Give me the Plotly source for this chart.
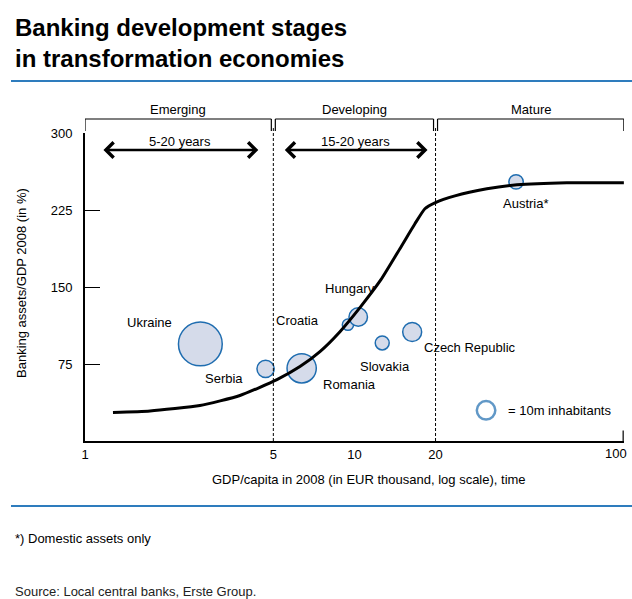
import numpy as np
import plotly.graph_objects as go

# Countries: GDP per capita 2008 (EUR thousand), banking assets / GDP (%), population (m)
countries = ["Ukraine", "Serbia", "Romania", "Croatia", "Hungary",
             "Slovakia", "Czech Republic", "Austria*"]
gdp_per_capita = [2.68, 4.68, 6.37, 9.46, 10.33, 12.68, 16.38, 39.8]
assets_to_gdp = [94.5, 70.3, 70.8, 113.3, 120.8, 95.5, 106.2, 252.4]
population_m = [56, 8.7, 25, 3.7, 10, 5.7, 10.5, 6.1]

# Where each country name sits (GDP, assets)
label_gdp = [1.735, 3.29, 9.60, 6.15, 9.62, 12.94, 26.8, 43.3]
label_assets = [115, 60.5, 54.7, 117.5, 148.3, 72.8, 90.7, 231.7]

# Stylised development path
curve_gdp = [1.27, 1.743, 2.671, 3.759, 5.158, 6.278, 7.447, 8.836, 10.48,
             12.54, 14.75, 16.77, 18.26, 19.89, 23.6, 31.01, 40.09, 61.43, 100]
curve_assets = [27.7, 29.2, 34.5, 44.3, 59.8, 72.5, 87.1, 106.5, 129.9,
                157.1, 187.3, 211.6, 226.2, 232.0, 238.8, 245.6, 249.5, 251.5, 251.5]

# Development stages and their GDP bounds
stages = ["Emerging", "Developing", "Mature"]
stage_bounds = [1, 5, 20, 100]
stage_durations = ["5-20 years", "15-20 years"]

# Bubble size key
key_population = 10
key_gdp = 30.8
key_assets = 29.9
key_text = "= 10m inhabitants"

x_ticks = [1, 5, 10, 20, 100]
y_ticks = [75, 150, 225, 300]

FONT = "Liberation Sans, Arial, sans-serif"
BLUE = "#1f6db0"
FILL = "#d5dbea"
RULE = "#2e7cbd"

size_ref = 2.0 * 10 / 18.5 ** 2


def note(x, y, text, size=13, xanchor="center", color="black", **kw):
    fig.add_annotation(x=x, y=y, text=text, showarrow=False,
                       xanchor=xanchor, yanchor="middle",
                       font=dict(family=FONT, size=size, color=color), **kw)


fig = go.Figure()

fig.add_trace(go.Scatter(
    x=gdp_per_capita, y=assets_to_gdp, mode="markers",
    marker=dict(size=population_m, sizemode="area", sizeref=size_ref,
                color=FILL, opacity=1, line=dict(color=BLUE, width=1.5)),
    hoverinfo="skip", showlegend=False, cliponaxis=False))

fig.add_trace(go.Scatter(
    x=curve_gdp, y=curve_assets, mode="lines",
    line=dict(color="black", width=3, shape="spline", smoothing=0.5),
    hoverinfo="skip", showlegend=False))

fig.add_trace(go.Scatter(
    x=[key_gdp], y=[key_assets], mode="markers",
    marker=dict(size=[key_population], sizemode="area", sizeref=size_ref,
                color="white", line=dict(color=BLUE, width=2.5)),
    hoverinfo="skip", showlegend=False))

# Country names
for name, lx, ly in zip(countries, label_gdp, label_assets):
    note(np.log10(lx), ly, name, xref="x", yref="y")

note(np.log10(key_gdp) + 0.0736, key_assets, key_text, xanchor="left",
     xref="x", yref="y")

# Stage boundaries, brackets and duration arrows
gap = 10 ** (2 / 269.5)
br_top, br_bot = 1.0455, 1.0065
for b in stage_bounds[1:-1]:
    fig.add_shape(type="line", xref="x", yref="paper", x0=b, x1=b, y0=0, y1=1.016,
                  line=dict(color="black", width=1, dash="3px,2px"))

for i, name in enumerate(stages):
    lo, hi = stage_bounds[i], stage_bounds[i + 1]
    x0 = lo * gap if i > 0 else lo
    x1 = hi / gap if i < len(stages) - 1 else hi
    line = dict(color="black", width=1.2)
    fig.add_shape(type="line", xref="x", yref="paper", x0=x0, x1=x1,
                  y0=br_top, y1=br_top, line=line)
    fig.add_shape(type="line", xref="x", yref="paper", x0=x0, x1=x0,
                  y0=br_bot, y1=br_top, line=line)
    fig.add_shape(type="line", xref="x", yref="paper", x0=x1, x1=x1,
                  y0=br_bot, y1=br_top, line=line)
    note((np.log10(x0) + np.log10(x1)) / 2, 1.0747, name, xref="x", yref="paper")

arrow_ends = [(1.156, 5 / 1.137), (5 * 1.089, 20 / 1.071)]
for (a0, a1), label in zip(arrow_ends, stage_durations):
    fig.add_annotation(x=np.log10(a1), y=0.9448, xref="x", yref="paper",
                       ax=np.log10(a0), ay=0, axref="x", ayref="pixel", text="",
                       showarrow=True, arrowhead=4, startarrowhead=4,
                       arrowside="end+start", arrowsize=1.2, startarrowsize=1.2,
                       arrowwidth=2.5, arrowcolor="black")
    note((np.log10(a0) + np.log10(a1)) / 2, 0.974, label, xref="x", yref="paper")

# End tick of the x axis; its label is right-aligned so it stays inside the page
fig.add_shape(type="line", xref="x", yref="paper", x0=99.4, x1=99.4, y0=0, y1=0.034,
              line=dict(color="black", width=1.2))
x_tick_text = [str(t) for t in x_ticks[:-1]] + [""]
note(np.log10(x_ticks[-1]), -0.0405, str(x_ticks[-1]), xanchor="right", xshift=5,
     xref="x", yref="paper")

# Header, rules, notes
note(-0.1336, 1.344, "<b>Banking development stages</b>", size=24,
     xanchor="left", xref="paper", yref="paper")
note(-0.1336, 1.2435, "<b>in transformation economies</b>", size=24,
     xanchor="left", xref="paper", yref="paper")
for yy in (1.1688, -0.211):
    fig.add_shape(type="line", xref="paper", yref="paper", x0=-0.1373, x1=1.02,
                  y0=yy, y1=yy, line=dict(color=RULE, width=2))
note(-0.1336, -0.318, "*) Domestic assets only", xanchor="left",
     xref="paper", yref="paper")
note(-0.1336, -0.490, "Source: Local central banks, Erste Group.", xanchor="left",
     color="#222", xref="paper", yref="paper")

# Axis titles
note(0.526, -0.1234, "GDP/capita in 2008 (in EUR thousand, log scale), time",
     xref="paper", yref="paper")
note(-0.1169, 0.513, "Banking assets/GDP 2008 (in %)", textangle=-90,
     xref="paper", yref="paper")

fig.update_xaxes(type="log", range=[0, 2.0005], tickvals=x_ticks,
                 ticktext=x_tick_text, ticks="", showgrid=False,
                 zeroline=False, showline=True, linecolor="black", linewidth=2,
                 tickfont=dict(family=FONT, size=13, color="black"), automargin=False)
fig.update_yaxes(range=[0, 300], tickvals=y_ticks, ticks="inside", ticklen=15,
                 tickwidth=1.2, tickcolor="black", showgrid=False, zeroline=False,
                 showline=True, linecolor="black", linewidth=2, ticklabelstandoff=8,
                 tickfont=dict(family=FONT, size=13, color="black"), automargin=False)

fig.update_layout(width=632, height=599,
                  margin=dict(l=85, r=8, t=133, b=158, pad=0),
                  paper_bgcolor="white", plot_bgcolor="white",
                  showlegend=False, font=dict(family=FONT))

fig.write_html("out.html")
